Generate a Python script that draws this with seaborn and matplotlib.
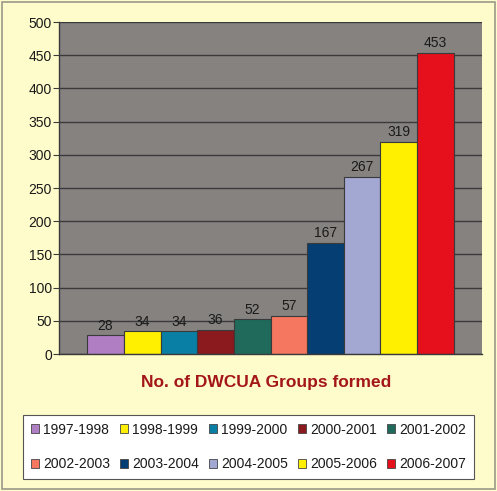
import pandas as pd
import seaborn as sns
import matplotlib.pyplot as plt
from matplotlib.patches import Rectangle

periods = ['1997-1998', '1998-1999', '1999-2000', '2000-2001', '2001-2002',
           '2002-2003', '2003-2004', '2004-2005', '2005-2006', '2006-2007']
groups_formed = [28, 34, 34, 36, 52, 57, 167, 267, 319, 453]
bar_colors = ['#B07EC2', '#FFF000', '#0A7FA6', '#8A1A1E', '#1F6A5A',
              '#F5775F', '#053E73', '#A3A8D2', '#FFF000', '#E5101B']

df = pd.DataFrame({'period': periods, 'groups': groups_formed})

sns.set_theme(style='white')
plt.rcParams['font.family'] = ['Liberation Sans', 'DejaVu Sans']

fig = plt.figure(figsize=(4.97, 4.91), dpi=100)
fig.patch.set_facecolor('#FFFCCB')
ax = fig.add_axes([59 / 497, 1 - 354 / 491, 423 / 497, 332 / 491])

sns.barplot(data=df, x='period', y='groups', hue='period',
            palette=dict(zip(periods, bar_colors)), saturation=1, width=1.0,
            edgecolor='#3A3A3A', linewidth=0.8, legend=True, ax=ax)

for cont in ax.containers:
    ax.bar_label(cont, padding=2, fontsize=10, color='#1A1A1A')

ax.set_facecolor('#858280')
ax.set_ylim(0, 500)
ax.set_xlim(-1.27, 10.27)
ax.set_yticks(range(0, 501, 50))
ax.yaxis.grid(True, color='#3A3A3A', linewidth=1.0)
ax.set_axisbelow(True)
ax.set_xticks([])
ax.set_xlabel('')
ax.set_ylabel('')
ax.tick_params(axis='y', which='major', left=True, length=4, width=0.8,
               color='#3A3A3A', labelsize=10, labelcolor='#1A1A1A', pad=1)
for side in ['top', 'right']:
    ax.spines[side].set_visible(False)
for side in ['left', 'bottom']:
    ax.spines[side].set_color('#3A3A3A')
    ax.spines[side].set_linewidth(1.0)

fig.text(0.535, 1 - 382 / 491, 'No. of DWCUA Groups formed', ha='center', va='center',
         fontsize=12.5, fontweight='bold', color='#A3161A')

handles, labels = ax.get_legend_handles_labels()
ax.get_legend().remove()
for h in handles:
    h.set_edgecolor('#444444')
    h.set_linewidth(0.6)
# legend fills column by column, so reorder to read row by row
order = [0, 5, 1, 6, 2, 7, 3, 8, 4, 9]
leg = fig.legend([handles[i] for i in order], [labels[i] for i in order],
                 ncol=5, loc='center',
                 bbox_to_anchor=(16 / 497, 13 / 491, 465 / 497, 62 / 491),
                 mode='expand', fontsize=10, frameon=True, fancybox=False,
                 edgecolor='#555555', facecolor='white', framealpha=1,
                 handlelength=0.6, handleheight=0.6, handletextpad=0.3,
                 labelspacing=1.5, borderpad=0.55, columnspacing=0.8)
leg.get_frame().set_linewidth(0.8)
for t in leg.get_texts():
    t.set_color('#1A1A1A')

fig.patches.append(Rectangle((0.004, 0.004), 0.992, 0.992, transform=fig.transFigure,
                             fill=False, edgecolor='#9A9A8A', linewidth=1.2))

fig.savefig('out.png', dpi=100, facecolor=fig.get_facecolor())
